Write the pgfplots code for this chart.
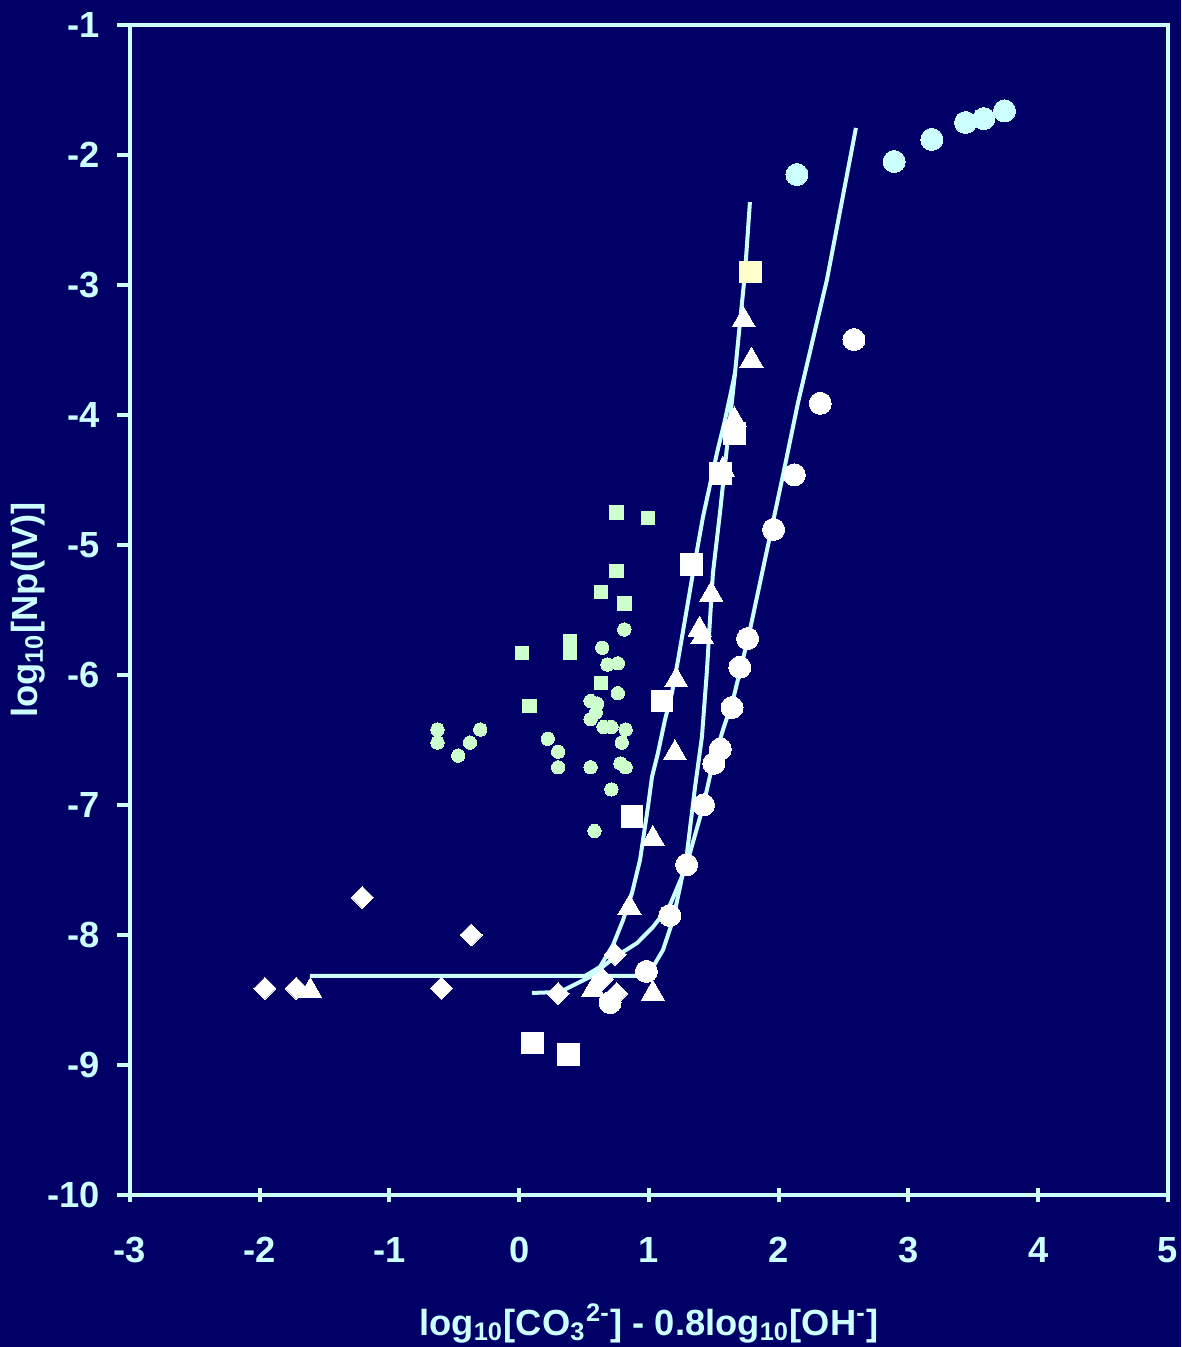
\documentclass[border=0pt]{standalone}
\usepackage{fontspec}
\setmainfont{Liberation Sans}
\usepackage{pgfplots}
\pgfplotsset{compat=1.18}
\definecolor{bg}{HTML}{000066}
\definecolor{lc}{HTML}{CCFFFF}
\definecolor{lg}{HTML}{CCFFCC}
\definecolor{ly}{HTML}{FFFFCC}
\begin{document}
\begin{tikzpicture}
\useasboundingbox (-39pt,-45.6pt) rectangle (315.3pt,358.5pt);
\fill[bg] (-39pt,-45.6pt) rectangle (315.3pt,358.5pt);
\begin{axis}[
  scale only axis, width=311.4pt, height=351pt,
  xmin=-3, xmax=5, ymin=-10, ymax=-1,
  xtick={-3,-2,-1,0,1,2,3,4,5},
  xticklabels={-3,-2,-1,0,1,2,3,4,5},
  ytick={-10,-9,-8,-7,-6,-5,-4,-3,-2,-1},
  yticklabels={-10,-9,-8,-7,-6,-5,-4,-3,-2,-1},
  xtick pos=bottom, ytick pos=left,
  xtick align=center, ytick align=outside,
  major tick length=4pt,
  axis line style={lc, line width=1.2pt},
  tick style={lc, line width=1.2pt},
  ticklabel style={font=\fontsize{10.9}{13}\selectfont\bfseries, text=lc},
  xticklabel style={yshift=-7.2pt},
  yticklabel style={xshift=-1.6pt},
  xlabel={log\textsubscript{10}[CO\textsubscript{3}\textsuperscript{2-}] - 0.8log\textsubscript{10}[OH\textsuperscript{-}]},
  ylabel={log\textsubscript{10}[Np(IV)]},
  label style={font=\fontsize{10.9}{13}\selectfont\bfseries, text=lc},
  xlabel style={at={(axis description cs:0.5,-0.1197)}, anchor=base},
  ylabel style={at={(axis description cs:-0.0983,0.5)}, anchor=center},
  clip=false,
]
% fitted lines
\addplot[lc, line width=1.2pt, no marks] coordinates {
 (-1.613,-8.315) (0.977,-8.315) (1.031,-8.246) (1.108,-8.115) (1.185,-7.885)
 (1.239,-7.631) (1.293,-7.369) (1.355,-6.862) (1.408,-6.477) (1.447,-5.962)
 (1.470,-5.577) (1.493,-5.215) (1.547,-4.754) (1.601,-4.246) (1.663,-3.677)
 (1.701,-3.292) (1.740,-2.908) (1.778,-2.362)};
\addplot[lc, line width=1.2pt, no marks] coordinates {
 (0.507,-8.315) (0.622,-8.246) (0.723,-8.077) (0.800,-7.885) (0.869,-7.677)
 (0.931,-7.423) (0.992,-7.015) (1.023,-6.785) (1.069,-6.600) (1.123,-6.346)
 (1.177,-6.138) (1.224,-5.885) (1.277,-5.577) (1.339,-5.215) (1.416,-4.785)
 (1.524,-4.292) (1.586,-4.038) (1.647,-3.754) (1.663,-3.677)};
\addplot[lc, line width=1.2pt, no marks] coordinates {
 (0.098,-8.446) (0.314,-8.438) (0.545,-8.323) (0.738,-8.169) (0.908,-8.062)
 (1.031,-7.938) (1.162,-7.769) (1.285,-7.477) (1.416,-7.015) (1.493,-6.677)
 (1.570,-6.423) (1.647,-6.192) (1.717,-5.908) (1.778,-5.654) (2.033,-4.462)
 (2.148,-3.908) (2.371,-2.962) (2.595,-1.792)};
% green squares
\addplot[only marks, mark=square*, mark size=2pt, mark options={draw=lg, fill=lg, line width=0pt}] coordinates {
 (0.75,-4.75) (0.99,-4.79) (0.75,-5.20) (0.63,-5.36) (0.81,-5.45) (0.02,-5.83)
 (0.39,-5.74) (0.39,-5.83) (0.63,-6.06) (0.08,-6.24)};
% green circles
\addplot[only marks, mark=*, mark size=2pt, mark options={draw=lg, fill=lg, line width=0pt}] coordinates {
 (0.81,-5.65) (0.64,-5.79) (0.68,-5.92) (0.76,-5.91) (0.76,-6.14) (0.55,-6.20)
 (0.60,-6.22) (0.59,-6.29) (0.55,-6.34) (0.65,-6.40) (0.71,-6.40) (0.82,-6.42)
 (0.79,-6.52) (-0.63,-6.42) (-0.63,-6.52) (-0.38,-6.52) (-0.30,-6.42) (-0.47,-6.62)
 (0.22,-6.49) (0.30,-6.59) (0.30,-6.71) (0.55,-6.71) (0.78,-6.68) (0.82,-6.71)
 (0.71,-6.88) (0.58,-7.20)};
% diamonds
\addplot[only marks, mark=square*, mark size=2.33pt, mark options={rotate=45, draw=white, fill=white, line width=0pt}] coordinates {
 (-1.96,-8.41) (-1.72,-8.41) (-1.21,-7.71) (-0.37,-8.00) (-0.60,-8.41)
 (0.30,-8.45) (0.74,-8.15) (0.64,-8.34) (0.75,-8.45)};
% squares
\addplot[only marks, mark=square*, mark size=3.25pt, mark options={draw=white, fill=white, line width=0pt}] coordinates {
 (1.66,-4.14) (1.55,-4.45) (1.33,-5.15) (1.10,-6.20) (0.87,-7.09) (0.10,-8.83) (0.38,-8.92)};
\addplot[only marks, mark=square*, mark size=3.25pt, mark options={draw=ly, fill=ly, line width=0pt}] coordinates {
 (1.78,-2.90)};
% triangles
\addplot[only marks, mark=triangle*, mark size=4pt, mark options={draw=white, fill=white, line width=0pt}] coordinates {
 (-1.61,-8.43) (0.57,-8.42) (1.03,-8.45) (0.85,-7.79) (1.03,-7.26) (1.20,-6.60)
 (1.21,-6.04) (1.39,-5.65) (1.41,-5.71) (1.48,-5.38) (1.57,-4.42) (1.66,-4.04)
 (1.73,-3.27) (1.79,-3.58)};
% circles
\addplot[only marks, mark=*, mark size=3.3pt, mark options={draw=white, fill=white, line width=0pt}] coordinates {
 (2.58,-3.42) (2.32,-3.91) (2.12,-4.46) (1.96,-4.88) (1.76,-5.72) (1.70,-5.94)
 (1.64,-6.25) (1.55,-6.57) (1.50,-6.68) (1.42,-7.00) (1.29,-7.46) (1.16,-7.85)
 (0.98,-8.28) (0.70,-8.52)};
\addplot[only marks, mark=*, mark size=3.3pt, mark options={draw=lc, fill=lc, line width=0pt}] coordinates {
 (2.14,-2.15) (2.89,-2.05) (3.18,-1.88) (3.44,-1.75) (3.58,-1.72) (3.74,-1.66)};
\end{axis}
\end{tikzpicture}
\end{document}
